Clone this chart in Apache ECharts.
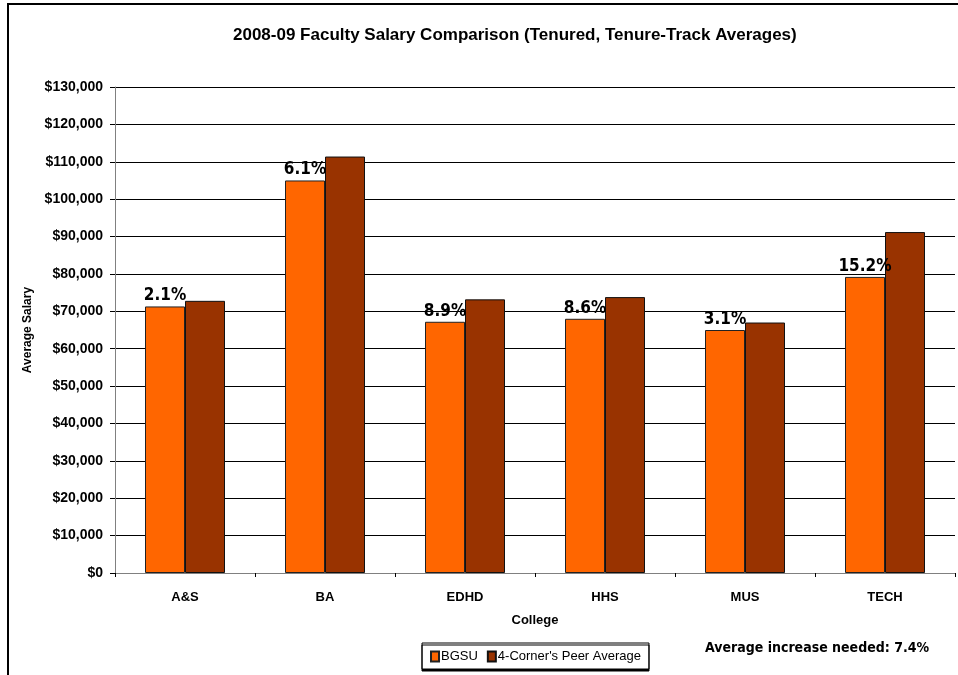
<!DOCTYPE html>
<html>
<head>
<meta charset="utf-8">
<script src="https://cdn.jsdelivr.net/npm/echarts@6/dist/echarts.min.js"></script>
<style>
  html, body { margin: 0; padding: 0; background: #fff; }
  #main { width: 958px; height: 675px; }
</style>
</head>
<body>
<div id="main"></div>
<script>
// college averages
var colleges = ['A&S', 'BA', 'EDHD', 'HHS', 'MUS', 'TECH'];
var bgsu = [71300, 105000, 67200, 68000, 65000, 79200];
var peerAvg = [72800, 111400, 73200, 73800, 67000, 91200];
var gapPct = ['2.1%', '6.1%', '8.9%', '8.6%', '3.1%', '15.2%'];
var avgIncrease = 'Average increase needed: 7.4%';

var chart = echarts.init(document.getElementById('main'), null, { renderer: 'canvas' });

var boldFont = 'Liberation Sans';

var option = {
  animation: false,
  backgroundColor: '#fff',
  title: {
    text: '2008-09 Faculty Salary Comparison (Tenured, Tenure-Track Averages)',
    left: 228,
    top: 22,
    textStyle: {
      fontFamily: boldFont,
      fontWeight: 'bold',
      fontSize: 17,
      color: '#000'
    }
  },
  legend: {
    data: ['BGSU', "4-Corner's Peer Average"],
    left: 422,
    top: 643,
    orient: 'horizontal',
    icon: 'rect',
    itemWidth: 8,
    itemHeight: 10,
    itemGap: 9,
    padding: [7, 8, 6, 8],
    borderColor: '#000',
    borderWidth: 1,
    shadowColor: '#000',
    shadowOffsetY: 2,
    backgroundColor: '#fff',
    textStyle: {
      fontFamily: 'Liberation Sans',
      fontSize: 13,
      color: '#000',
      padding: [0, 0, 0, -3]
    }
  },
  grid: {
    left: 115,
    right: 3,
    top: 87,
    bottom: 102,
    containLabel: false
  },
  xAxis: {
    type: 'category',
    data: colleges,
    name: 'College',
    nameLocation: 'middle',
    nameGap: 41,
    nameTextStyle: {
      fontFamily: boldFont,
      fontWeight: 'bold',
      fontSize: 13,
      color: '#000'
    },
    axisLine: { lineStyle: { color: '#808080', width: 1 } },
    axisTick: { show: true, length: 4, lineStyle: { color: '#000' } },
    axisLabel: {
      margin: 18,
      fontFamily: boldFont,
      fontWeight: 'bold',
      fontSize: 13,
      color: '#000'
    }
  },
  yAxis: {
    type: 'value',
    min: 0,
    max: 130000,
    interval: 10000,
    name: 'Average Salary',
    nameLocation: 'middle',
    nameGap: 76,
    nameRotate: 90,
    nameTextStyle: {
      fontFamily: boldFont,
      fontWeight: 'bold',
      fontSize: 12,
      color: '#000'
    },
    axisLine: { show: true, lineStyle: { color: '#808080', width: 1 } },
    axisTick: { show: true, length: 5, lineStyle: { color: '#000' } },
    splitLine: { show: true, lineStyle: { color: '#000', width: 1 } },
    axisLabel: {
      margin: 12,
      fontFamily: boldFont,
      fontWeight: 'bold',
      fontSize: 14,
      color: '#000',
      formatter: function (v) {
        return '$' + v.toLocaleString('en-US');
      }
    }
  },
  series: [
    {
      name: 'BGSU',
      type: 'bar',
      data: bgsu,
      barWidth: 40,
      barGap: '0%',
      itemStyle: { color: '#FF6600', borderColor: '#222', borderWidth: 1 },
      label: {
        show: true,
        position: 'top',
        distance: 2,
        formatter: function (p) { return gapPct[p.dataIndex]; },
        fontFamily: 'DejaVu Sans Condensed',
        fontWeight: 'bold',
        fontSize: 17,
        color: '#000'
      }
    },
    {
      name: "4-Corner's Peer Average",
      type: 'bar',
      data: peerAvg,
      barWidth: 40,
      barGap: '0%',
      itemStyle: { color: '#993300', borderColor: '#111', borderWidth: 1 }
    }
  ],
  graphic: [
    {
      // outer frame of the pasted chart
      type: 'rect',
      silent: true,
      shape: { x: 8, y: 4, width: 980, height: 700 },
      style: { fill: 'none', stroke: '#000', lineWidth: 2 }
    },
    {
      type: 'text',
      left: 705,
      top: 641,
      style: {
        text: avgIncrease,
        fontFamily: 'DejaVu Sans Condensed',
        fontWeight: 'bold',
        fontSize: 14,
        fill: '#000'
      }
    }
  ]
};

chart.setOption(option);
</script>
</body>
</html>
